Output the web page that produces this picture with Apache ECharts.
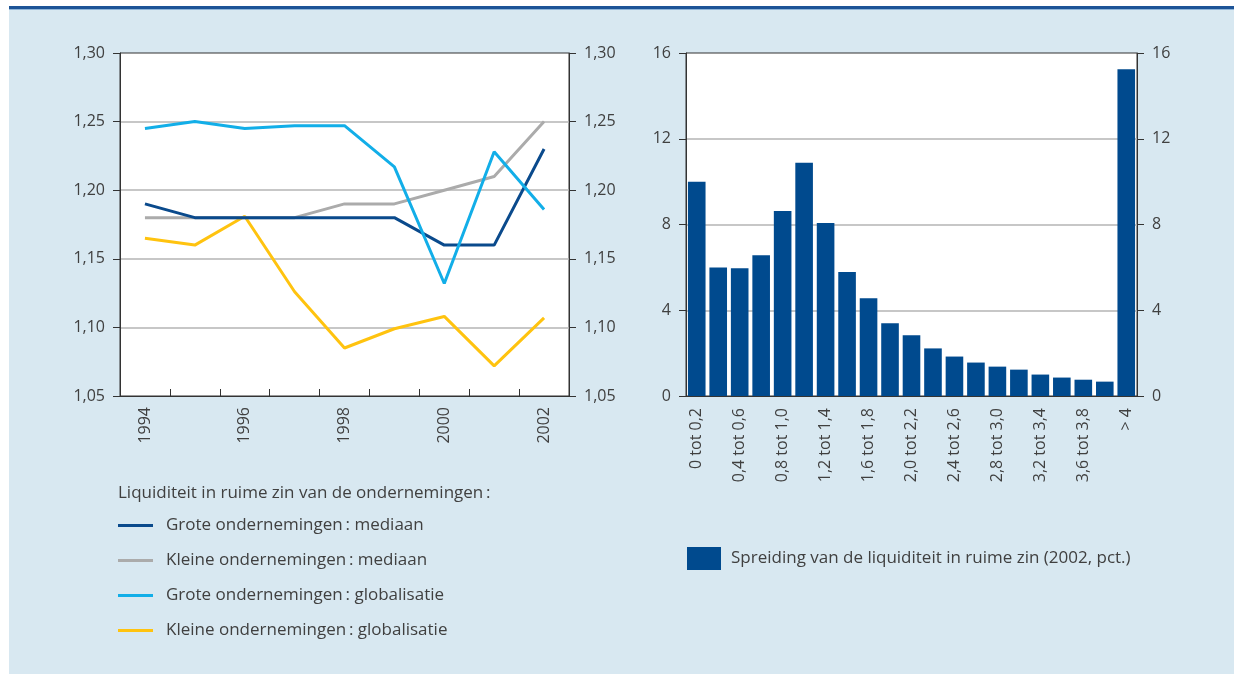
<!DOCTYPE html>
<html>
<head>
<meta charset="utf-8">
<script src="https://cdn.jsdelivr.net/npm/echarts@6/dist/echarts.min.js"></script>
<style>
  html, body { margin: 0; padding: 0; background: #ffffff; }
  #chart { width: 1240px; height: 674px; }
</style>
</head>
<body>
<div id="chart"></div>
<script>
// Liquiditeit in ruime zin, 1994-2002
const years = ['1994', '1995', '1996', '1997', '1998', '1999', '2000', '2001', '2002'];
const groteMediaan = [1.19, 1.18, 1.18, 1.18, 1.18, 1.18, 1.16, 1.16, 1.23];
const kleineMediaan = [1.18, 1.18, 1.18, 1.18, 1.19, 1.19, 1.20, 1.21, 1.25];
const groteGlobalisatie = [1.245, 1.25, 1.245, 1.247, 1.247, 1.217, 1.132, 1.228, 1.186];
const kleineGlobalisatie = [1.165, 1.160, 1.181, 1.126, 1.085, 1.099, 1.108, 1.072, 1.107];

// Spreiding van de liquiditeit in ruime zin (2002, pct.)
const klassen = [
  '0 tot 0,2', '0,2 tot 0,4', '0,4 tot 0,6', '0,6 tot 0,8', '0,8 tot 1,0',
  '1,0 tot 1,2', '1,2 tot 1,4', '1,4 tot 1,6', '1,6 tot 1,8', '1,8 tot 2,0',
  '2,0 tot 2,2', '2,2 tot 2,4', '2,4 tot 2,6', '2,6 tot 2,8', '2,8 tot 3,0',
  '3,0 tot 3,2', '3,2 tot 3,4', '3,4 tot 3,6', '3,6 tot 3,8', '3,8 tot 4,0', '> 4'
];
const spreiding = [10.0, 6.0, 5.96, 6.57, 8.63, 10.88, 8.07, 5.78, 4.56, 3.39,
  2.83, 2.22, 1.84, 1.56, 1.37, 1.23, 1.0, 0.86, 0.76, 0.67, 15.24];

const legendTitle = 'Liquiditeit in ruime zin van de ondernemingen\u2009:';
const lineNames = [
  'Grote ondernemingen\u2009: mediaan',
  'Kleine ondernemingen\u2009: mediaan',
  'Grote ondernemingen\u2009: globalisatie',
  'Kleine ondernemingen\u2009: globalisatie'
];
const barName = 'Spreiding van de liquiditeit in ruime zin (2002, pct.)';

const FONT = 'Open Sans';
const TEXT = '#404040';
const AXIS = '#333333';
const GRID = '#b5b5b5';
const colors = ['#0a4a8c', '#ababab', '#12aee8', '#ffc30f'];
const barColor = '#004a8e';

const comma2 = v => v.toFixed(2).replace('.', ',');

function valueAxis(gridIndex, position, min, max, interval, fmt, showSplit) {
  return {
    type: 'value', gridIndex, position, min, max, interval,
    axisLine: { show: true, lineStyle: { color: AXIS, width: 1 } },
    axisTick: { show: true, length: 7, lineStyle: { color: AXIS } },
    axisLabel: { color: TEXT, fontFamily: FONT, fontSize: 16, margin: 15, formatter: fmt },
    splitLine: { show: showSplit, showMinLine: false, showMaxLine: false, lineStyle: { color: GRID, width: 1.5 } }
  };
}

const chart = echarts.init(document.getElementById('chart'), null, { renderer: 'canvas' });

chart.setOption({
  animation: false,
  backgroundColor: '#ffffff',
  textStyle: { fontFamily: FONT },
  graphic: [
    { type: 'rect', z: -10, shape: { x: 9, y: 7, width: 1225, height: 667 }, style: { fill: '#d8e8f1' } },
    { type: 'rect', z: -9, shape: { x: 9, y: 6, width: 1225, height: 3 }, style: { fill: '#1d5497' } },
    { type: 'rect', z: -9, shape: { x: 9, y: 9, width: 1225, height: 1 }, style: { fill: '#8fb5d8' } },
    {
      type: 'text', left: 118, top: 485,
      style: { text: legendTitle, fill: TEXT, font: '17px "' + FONT + '"' }
    }
  ],
  grid: [
    { left: 120, top: 53, width: 449, height: 343, show: true, backgroundColor: '#ffffff', borderColor: AXIS, borderWidth: 1 },
    { left: 686, top: 53, width: 451, height: 343, show: true, backgroundColor: '#ffffff', borderColor: AXIS, borderWidth: 1 }
  ],
  legend: [
    {
      data: lineNames, orient: 'vertical', left: 118, top: 517, padding: 0, itemGap: 18,
      itemWidth: 35, itemHeight: 3, icon: 'rect',
      textStyle: { color: TEXT, fontFamily: FONT, fontSize: 17, padding: [0, 0, 0, 8] }
    },
    {
      data: [barName], left: 687, top: 547, padding: 0,
      itemWidth: 34, itemHeight: 23, icon: 'rect',
      textStyle: { color: TEXT, fontFamily: FONT, fontSize: 17, padding: [0, 0, 0, 5] }
    }
  ],
  xAxis: [
    {
      type: 'category', gridIndex: 0, data: years, boundaryGap: true,
      axisLine: { lineStyle: { color: AXIS, width: 1 } },
      axisTick: { show: true, inside: true, length: 7, interval: 0, lineStyle: { color: AXIS } },
      axisLabel: { interval: 1, rotate: 90, color: TEXT, fontFamily: FONT, fontSize: 16, margin: 11 }
    },
    {
      type: 'category', gridIndex: 1, data: klassen, boundaryGap: true,
      axisLine: { lineStyle: { color: AXIS, width: 1 } },
      axisTick: { show: false },
      axisLabel: { interval: 1, rotate: 90, color: TEXT, fontFamily: FONT, fontSize: 16, margin: 12 }
    }
  ],
  yAxis: [
    valueAxis(0, 'left', 1.05, 1.30, 0.05, comma2, true),
    valueAxis(0, 'right', 1.05, 1.30, 0.05, comma2, false),
    valueAxis(1, 'left', 0, 16, 4, v => String(v), true),
    valueAxis(1, 'right', 0, 16, 4, v => String(v), false)
  ],
  series: [
    { name: lineNames[0], type: 'line', xAxisIndex: 0, yAxisIndex: 0, data: groteMediaan, symbol: 'none', lineStyle: { color: colors[0], width: 3 }, itemStyle: { color: colors[0] }, z: 3 },
    { name: lineNames[1], type: 'line', xAxisIndex: 0, yAxisIndex: 0, data: kleineMediaan, symbol: 'none', lineStyle: { color: colors[1], width: 3 }, itemStyle: { color: colors[1] }, z: 2 },
    { name: lineNames[2], type: 'line', xAxisIndex: 0, yAxisIndex: 0, data: groteGlobalisatie, symbol: 'none', lineStyle: { color: colors[2], width: 3 }, itemStyle: { color: colors[2] }, z: 4 },
    { name: lineNames[3], type: 'line', xAxisIndex: 0, yAxisIndex: 0, data: kleineGlobalisatie, symbol: 'none', lineStyle: { color: colors[3], width: 3 }, itemStyle: { color: colors[3] }, z: 1 },
    { name: barName, type: 'bar', xAxisIndex: 1, yAxisIndex: 2, data: spreiding, barCategoryGap: '18%', itemStyle: { color: barColor } }
  ]
});
</script>
</body>
</html>
